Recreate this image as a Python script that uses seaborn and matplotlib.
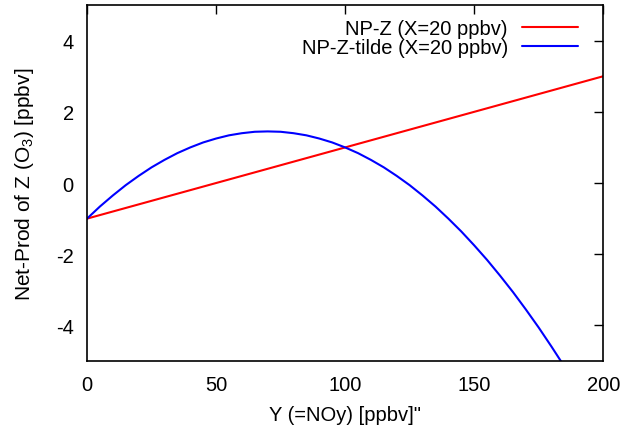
import numpy as np
import matplotlib
matplotlib.use('Agg')
import matplotlib.pyplot as plt
import seaborn as sns
import pandas as pd

# values
y_red = [0, 200]
np_z = [-1.0, 3.0]

y_blue = [0, 5, 10, 15, 20, 25, 30, 35, 40, 45, 50, 55, 60, 65, 70, 75, 80, 85, 90, 95,
          100, 105, 110, 115, 120, 125, 130, 135, 140, 145, 150, 155, 160, 165, 170, 175,
          180, 185]
np_z_tilde = [-1.0, -0.66, -0.35, -0.06, 0.2, 0.44, 0.65, 0.84, 1.0, 1.14, 1.25, 1.34, 1.4,
              1.44, 1.45, 1.44, 1.4, 1.34, 1.25, 1.14, 1.0, 0.84, 0.65, 0.44, 0.2, -0.06,
              -0.35, -0.66, -1.0, -1.36, -1.75, -2.16, -2.6, -3.06, -3.55, -4.06, -4.6, -5.16]

x_ticks = [0, 50, 100, 150, 200]
y_ticks = [-4, -2, 0, 2, 4]

lab_red = 'NP-Z (X=20 ppbv)'
lab_blue = 'NP-Z-tilde (X=20 ppbv)'

df = pd.concat([
    pd.DataFrame({'Y': y_red, 'NP': np_z, 'series': lab_red}),
    pd.DataFrame({'Y': y_blue, 'NP': np_z_tilde, 'series': lab_blue}),
])

sns.set_style("white")
plt.rcParams['font.family'] = ['Liberation Sans', 'DejaVu Sans']
plt.rcParams['font.size'] = 14.5
plt.rcParams['text.color'] = 'black'
plt.rcParams['axes.labelcolor'] = 'black'
plt.rcParams['axes.unicode_minus'] = False
plt.rcParams['mathtext.fontset'] = 'custom'
plt.rcParams['mathtext.rm'] = 'Liberation Sans'

fig = plt.figure(figsize=(6.35, 4.31), dpi=100)
ax = fig.add_axes([0.137, 0.160, 0.813, 0.826])

sns.lineplot(data=df, x='Y', y='NP', hue='series', palette={lab_red: '#ff0000', lab_blue: '#0000ff'},
             linewidth=1.5, ax=ax, estimator=None, sort=False)

ax.set_xlim(0, 200)
ax.set_ylim(-5, 5)
ax.set_xticks(x_ticks)
ax.set_yticks(y_ticks)
ax.tick_params(direction='in', length=6.5, width=1, top=True, right=True,
               labelsize=14.5, colors='black')
ax.tick_params(axis='y', pad=9.5)
ax.tick_params(axis='x', pad=10)
for s in ax.spines.values():
    s.set_linewidth(1.2)
    s.set_color('black')

ax.set_xlabel('Y (=NOy) [ppbv]"', fontsize=14.5, labelpad=8)
ax.set_ylabel('Net-Prod of Z (O$_3$) [ppbv]', fontsize=15, labelpad=14)

ax.legend(title=None, frameon=False, markerfirst=False, loc='upper right',
          bbox_to_anchor=(0.9516, 0.96), handlelength=2.8, handletextpad=0.7,
          labelspacing=0.0, borderaxespad=0, borderpad=0, fontsize=14.5)

fig.savefig('out.png', dpi=100)
